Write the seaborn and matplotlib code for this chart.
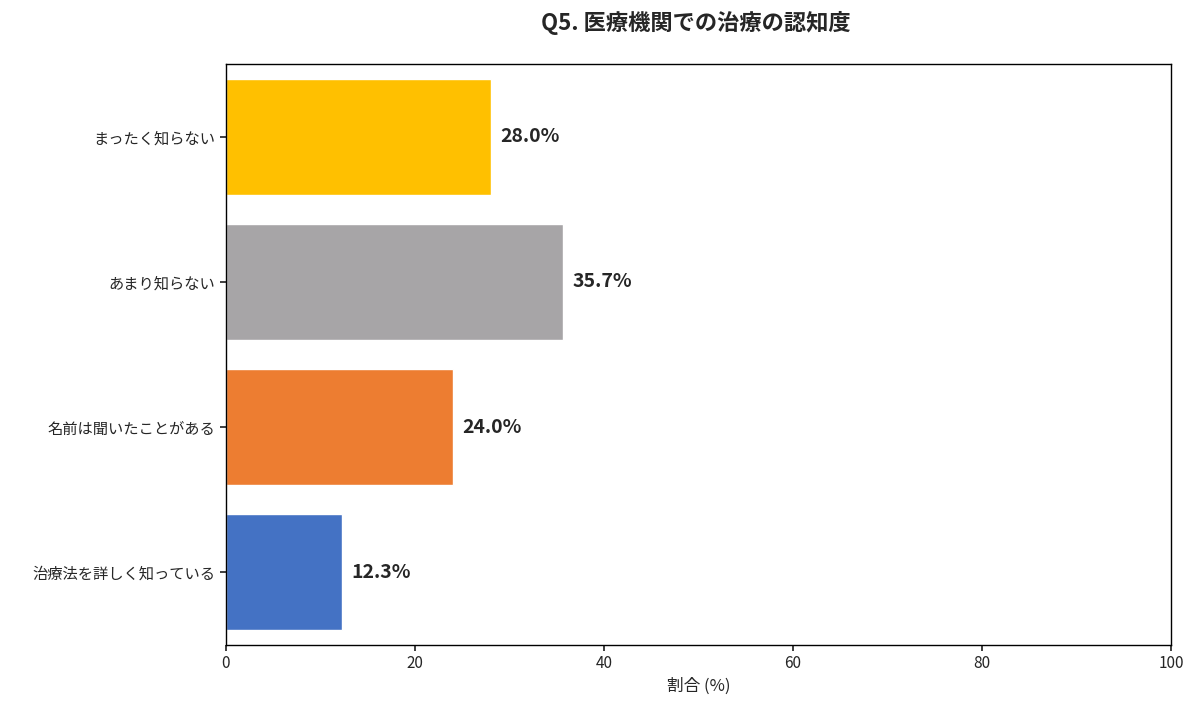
import matplotlib
matplotlib.use("Agg")
import matplotlib.pyplot as plt
import seaborn as sns
import pandas as pd

categories = ["まったく知らない", "あまり知らない", "名前は聞いたことがある", "治療法を詳しく知っている"]
values = [28.0, 35.7, 24.0, 12.3]
colors = ["#FFC000", "#A7A5A7", "#ED7D31", "#4472C4"]

sns.set_theme(style="white")
plt.rcParams['font.family'] = ['Noto Sans CJK JP', 'DejaVu Sans']

df = pd.DataFrame({"cat": categories, "val": values})
fig = plt.figure(figsize=(12, 7.12), dpi=100)
ax = fig.add_axes([226/1200, 1-645/712, (1171-226)/1200, (645-64)/712])
sns.barplot(data=df, x="val", y="cat", hue="cat", palette=colors, legend=False,
            width=0.8, ax=ax, saturation=1)
for i, v in enumerate(values):
    ax.text(v + 1, i, f"{v:.1f}%", va="center", ha="left", fontsize=14, fontweight="bold")
ax.set_xlim(0, 100)
ax.set_xticks([0, 20, 40, 60, 80, 100])
ax.set_xlabel("割合 (%)", fontsize=12)
ax.set_ylabel("")
ax.tick_params(axis="both", labelsize=11, length=4, left=True, bottom=True)
for s in ax.spines.values():
    s.set_color("black")
    s.set_linewidth(1)
fig.suptitle("Q5. 医療機関での治療の認知度", fontsize=16, fontweight="bold", x=0.58, y=0.985)
fig.savefig("out.png", dpi=100)
